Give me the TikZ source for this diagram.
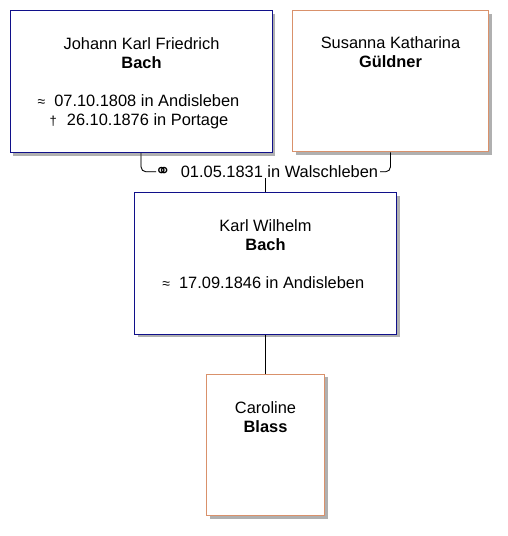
\documentclass[tikz,border=0pt]{standalone}
\usepackage{fontspec}
\setmainfont{Liberation Sans}
\newfontfamily\symfont{DejaVu Sans}
\usetikzlibrary{shadows}
\definecolor{mnavy}{HTML}{10108A}
\definecolor{morange}{HTML}{D9916B}
\definecolor{mshadow}{HTML}{B0B0B0}
\definecolor{mlinesh}{HTML}{B8B8B8}
\tikzset{
  pbox/.style={draw=mnavy, line width=1pt, fill=white, inner sep=0pt,
    general shadow={shadow xshift=3pt, shadow yshift=-3pt, fill=mshadow}},
  fbox/.style={draw=morange, line width=1pt, fill=white, inner sep=0pt,
    general shadow={shadow xshift=3pt, shadow yshift=-3pt, fill=mshadow}},
  txt/.style={anchor=base, inner sep=0pt, font=\fontsize{16.4}{19}\selectfont},
  conn/.style={draw=black, line width=0.8pt},
  connsh/.style={draw=mlinesh, line width=0.8pt},
}
\newcommand{\bapt}{{\fontsize{14}{19}\selectfont ≈}\hspace{9pt}}
\newcommand{\dieda}{{\fontsize{13}{19}\selectfont †}\hspace{10pt}}
\begin{document}
\begin{tikzpicture}[x=1pt,y=-1pt]
\useasboundingbox (0,0) rectangle (508,536);
\fill[white] (0,0) rectangle (508,536);

% boxes
\node[pbox, minimum width=262pt, minimum height=142pt] (jkf) at (141,81.5) {};
\node[fbox, minimum width=196pt, minimum height=141pt] (sus) at (390.5,81.3) {};
\node[pbox, minimum width=262pt, minimum height=141.5pt] (kw) at (265.5,263.5) {};
\node[fbox, minimum width=118pt, minimum height=141.5pt] (car) at (265.5,445.2) {};

% texts box 1
\node[txt] (jkf1) at (141.5,49.3) {Johann Karl Friedrich};
\node[txt] (jkf2) at (141.5,68.3) {\textbf{Bach}};
\node[txt] (jkf3) at (138.5,106.3) {\bapt 07.10.1808 in Andisleben};
\node[txt] (jkf4) at (139,125.3) {\dieda 26.10.1876 in Portage};

% texts box 2
\node[txt] (sus1) at (390.5,48.8) {Susanna Katharina};
\node[txt] (sus2) at (390.5,67.8) {\textbf{Güldner}};

% texts box 3
\node[txt] (kw1) at (265.5,231) {Karl Wilhelm};
\node[txt] (kw2) at (265.5,250) {\textbf{Bach}};
\node[txt] (kw3) at (263.3,288) {\bapt 17.09.1846 in Andisleben};

% texts box 4
\node[txt] (car1) at (265.5,413) {Caroline};
\node[txt] (car2) at (265.5,432) {\textbf{Blass}};

% marriage label
\node[txt, inner sep=1pt] (mar) at (266.5,177) {{\symfont\fontsize{19}{19}\selectfont ⚭}\hspace{10pt}01.05.1831 in Walschleben};
\coordinate (ml) at (156,171.8);
\coordinate (mr) at (380,171.8);

% connectors (shadow copies first)
\begin{scope}[xshift=2pt, yshift=-1pt]
\draw[connsh, rounded corners=5pt] (jkf.south) |- (ml);
\draw[connsh, rounded corners=5pt] (sus.south) |- (mr);
\draw[connsh] (mar.south -| kw.north) -- (kw.north);
\draw[connsh] (kw.south) -- (car.north);
\end{scope}
\draw[conn, rounded corners=5pt] (jkf.south) |- (ml);
\draw[conn, rounded corners=5pt] (sus.south) |- (mr);
\draw[conn] (mar.south -| kw.north) -- (kw.north);
\draw[conn] (kw.south) -- (car.north);
\end{tikzpicture}
\end{document}
